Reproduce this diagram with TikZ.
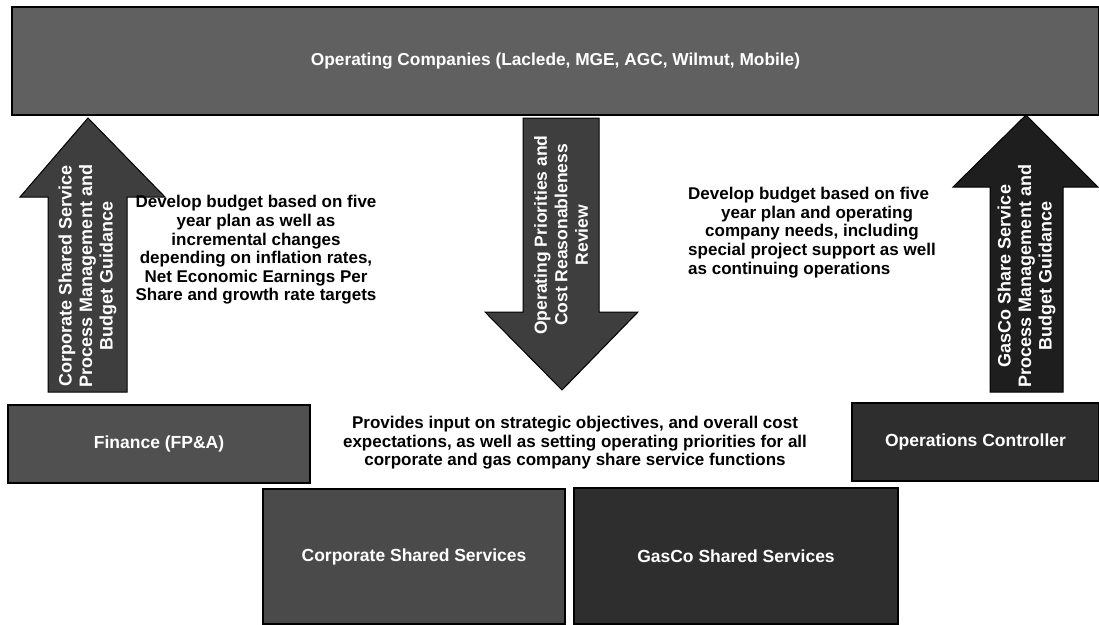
\documentclass[tikz,border=0pt]{standalone}
\usepackage{fontspec}
\setmainfont{Liberation Sans}
\definecolor{bargray}{HTML}{606060}
\definecolor{boxgray}{HTML}{505050}
\definecolor{corpgray}{HTML}{4A4A4A}
\definecolor{darkgray}{HTML}{2E2E2E}
\definecolor{arrowgray}{HTML}{3E3E3E}
\definecolor{arrowdark}{HTML}{1E1E1E}
\begin{document}
\begin{tikzpicture}[x=1pt,y=-1pt,
  box/.style={draw=black, line width=1.4pt, inner sep=0pt, outer sep=0pt, text=white,
    font=\bfseries\fontsize{17.5}{20}\selectfont},
  blockarrow/.style={draw=black, line width=1pt},
  arrowlabel/.style={text=white, align=center, rotate=90, inner sep=0pt,
    font=\bfseries\fontsize{18}{20.5}\selectfont},
  note/.style={align=center, inner sep=0pt, font=\bfseries\fontsize{17}{18.6}\selectfont}]
\useasboundingbox (0,0) rectangle (1099,624);
\fill[white] (0,0) rectangle (1099,624);

% top bar
\node[box, fill=bargray, minimum width=1087pt, minimum height=108pt] (top) at (555.5,61)
  {\fontsize{17.3}{20}\selectfont Operating Companies (Laclede, MGE, AGC, Wilmut, Mobile)};

% boxes
\node[box, fill=boxgray, minimum width=302pt, minimum height=78pt] (fin) at (159,444) {Finance (FP\&A)};
\node[box, fill=darkgray, minimum width=247pt, minimum height=78pt] (ops) at (975.5,442) {Operations Controller};
\node[box, fill=corpgray, minimum width=302pt, minimum height=135pt] (corp) at (414,556.5) {Corporate Shared Services};
\node[box, fill=darkgray, minimum width=324pt, minimum height=136pt] (gas) at (736,556) {GasCo Shared Services};

% left arrow (up)
\draw[blockarrow, fill=arrowgray] (48,392) -- (48,197) -- (20,197) -- (88,118) -- (165,197) -- (127,197) -- (127,392) -- cycle;
\node[arrowlabel] (la) at (87.5,276) {Corporate Shared Service\\Process Management and\\Budget Guidance};

% middle arrow (down)
\draw[blockarrow, fill=arrowgray] (523,118) -- (599,118) -- (599,312) -- (638,312) -- (562,390) -- (485,312) -- (523,312) -- cycle;
\node[arrowlabel, font=\bfseries\fontsize{17.5}{20.5}\selectfont] (ma) at (561,235) {Operating Priorities and\\Cost Reasonableness\\Review};

% right arrow (up)
\draw[blockarrow, fill=arrowdark] (990,392) -- (990,187) -- (953,187) -- (1026,115) -- (1098,187) -- (1063,187) -- (1063,392) -- cycle;
\node[arrowlabel] (ra) at (1026.5,276) {GasCo Share Service\\Process Management and\\Budget Guidance};

% notes
\node[note] (lt) at (256,250) {Develop budget based on five\\year plan as well as\\incremental changes\\depending on inflation rates,\\Net Economic Earnings Per\\Share and growth rate targets};
\node[note, align=left, anchor=west] (rt) at (688,232.5) {Develop budget based on five\\\hspace*{33pt}year plan and operating\\\hspace*{17pt}company needs, including\\special project support as well\\as continuing operations};
\node[note] (mt) at (575,443) {Provides input on strategic objectives, and overall cost\\expectations, as well as setting operating priorities for all\\corporate and gas company share service functions};
\end{tikzpicture}
\end{document}
